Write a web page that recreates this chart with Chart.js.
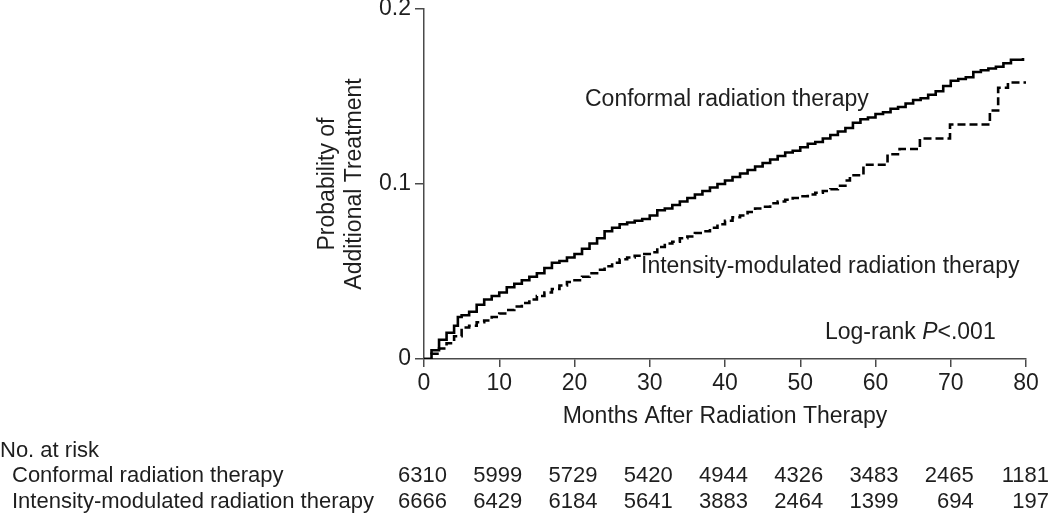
<!DOCTYPE html>
<html><head><meta charset="utf-8">
<script src="https://cdn.jsdelivr.net/npm/chart.js@4/dist/chart.umd.min.js"></script>
<style>html,body{margin:0;padding:0;background:#fff;}#wrap{width:1050px;height:513px;}</style>
</head><body><div id="wrap"><canvas id="c" width="1050" height="513"></canvas></div>
<script>
const crtMonths = [0,1,2,3,4,4.5,5,6,7,8,9,10,11,12,13,14,15,16,17,18,19,20,21,22,23,24,25,26,27,28,29,30,31,32,33,34,35,36,37,38,39,40,41,42,43,44,45,46,47,48,49,50,51,52,53,54,55,56,57,58,59,60,61,62,63,64,65,66,67,68,69,70,71,72,73,74,75,76,77,78,79,79.6];
const crtValues = [0,0.005,0.011,0.015,0.019,0.024,0.025,0.027,0.031,0.034,0.036,0.038,0.041,0.043,0.045,0.047,0.049,0.052,0.055,0.056,0.058,0.060,0.063,0.066,0.069,0.073,0.075,0.077,0.078,0.079,0.080,0.082,0.085,0.086,0.088,0.090,0.092,0.094,0.096,0.098,0.100,0.102,0.104,0.106,0.108,0.110,0.112,0.114,0.116,0.118,0.119,0.121,0.123,0.124,0.126,0.128,0.130,0.132,0.135,0.137,0.138,0.140,0.141,0.143,0.144,0.146,0.148,0.149,0.151,0.153,0.156,0.159,0.160,0.161,0.164,0.165,0.166,0.167,0.169,0.171,0.171,0.172];
const imrtMonths = [0,1,2,3,4,5,6,7,8,9,10,11,12,13,14,15,16,17,18,19,20,21,22,23,24,25,26,27,28,29,30,31,32,33,34,35,36,37,38,39,40,41,42,43,44,45,46,47,48,49,50,51,52,53,54,55,56,56.6,58.4,61.6,63.2,65.9,69.9,75.2,76.3,77.6,80];
const imrtValues = [0,0.003,0.006,0.009,0.013,0.018,0.019,0.021,0.022,0.024,0.026,0.028,0.030,0.032,0.034,0.036,0.038,0.040,0.042,0.044,0.045,0.047,0.049,0.051,0.053,0.055,0.057,0.058,0.059,0.060,0.061,0.064,0.066,0.067,0.069,0.070,0.072,0.073,0.075,0.077,0.079,0.081,0.082,0.084,0.086,0.087,0.089,0.090,0.091,0.092,0.093,0.094,0.095,0.096,0.097,0.099,0.102,0.105,0.111,0.117,0.120,0.126,0.134,0.142,0.155,0.158,0.158];

const xTicks = [0,10,20,30,40,50,60,70,80];
const yTicks = [0,0.1,0.2];
const seriesNames = ['Conformal radiation therapy','Intensity-modulated radiation therapy'];
const riskMonths = [0,10,20,30,40,50,60,70,80];
const riskCrt = [6310,5999,5729,5420,4944,4326,3483,2465,1181];
const riskImrt = [6666,6429,6184,5641,3883,2464,1399,694,197];
const xTitle = 'Months After Radiation Therapy';
const yTitle = ['Probability of','Additional Treatment'];
const pText = ['Log-rank ','P','<.001'];

const FONT = '"Liberation Sans", Arial, sans-serif';
const TXT = '#1e1e1e';
const AX = '#4a4a4a';

const textPlugin = {
  id: 'texts',
  afterDraw(chart) {
    const ctx = chart.ctx;
    const xs = chart.scales.x, ys = chart.scales.y;
    ctx.save();
    ctx.fillStyle = TXT;
    ctx.textBaseline = 'alphabetic';
    ctx.font = '23px ' + FONT;
    // x title
    ctx.textAlign = 'center';
    ctx.fillText(xTitle, (xs.left + xs.right) / 2, 423);
    // y title
    ctx.save();
    ctx.translate(334, (ys.top + ys.bottom) / 2);
    ctx.rotate(-Math.PI / 2);
    ctx.textAlign = 'center';
    ctx.fillText(yTitle[0], 0, 0);
    ctx.fillText(yTitle[1], 0, 27);
    ctx.restore();
    // series labels
    ctx.textAlign = 'left';
    ctx.fillText(seriesNames[0], 585, 106);
    ctx.fillText(seriesNames[1], 641, 273);
    // log-rank
    let px = 825;
    ctx.fillText(pText[0], px, 339); px += ctx.measureText(pText[0]).width;
    ctx.font = 'italic 23px ' + FONT;
    ctx.fillText(pText[1], px, 339); px += ctx.measureText(pText[1]).width;
    ctx.font = '23px ' + FONT;
    ctx.fillText(pText[2], px, 339);
    // risk table
    ctx.font = '22px ' + FONT;
    ctx.textAlign = 'left';
    ctx.fillText('No. at risk', 0, 457);
    ctx.fillText(seriesNames[0], 12, 482);
    ctx.fillText(seriesNames[1], 12, 508);
    ctx.textAlign = 'right';
    riskMonths.forEach((m, i) => {
      const x = xs.getPixelForValue(m) + 23;
      ctx.fillText(String(riskCrt[i]), x, 482);
      ctx.fillText(String(riskImrt[i]), x, 508);
    });
    ctx.restore();
  }
};

new Chart(document.getElementById('c'), {
  type: 'line',
  data: {
    datasets: [
      { label: seriesNames[0], data: crtMonths.map((m, i) => ({x: m, y: crtValues[i]})),
        borderColor: '#000', borderWidth: 2.6, pointRadius: 0, stepped: true, fill: false },
      { label: seriesNames[1], data: imrtMonths.map((m, i) => ({x: m, y: imrtValues[i]})),
        borderColor: '#000', borderWidth: 2.6, borderDash: [8, 4], pointRadius: 0, stepped: true, fill: false }
    ]
  },
  options: {
    responsive: false, animation: false, devicePixelRatio: 1,
    layout: { padding: { top: 9, right: 24, left: 0, bottom: 0 } },
    plugins: { legend: { display: false }, tooltip: { enabled: false } },
    scales: {
      x: {
        type: 'linear', min: 0, max: 80, position: 'bottom',
        afterBuildTicks(s) { s.ticks = xTicks.map(v => ({value: v})); },
        afterFit(s) { s.height = 154; s.paddingLeft = 0; s.paddingRight = 0; },
        grid: { drawOnChartArea: false, drawTicks: true, tickLength: 8, color: AX, lineWidth: 1.5 },
        border: { color: AX, width: 1.5 },
        ticks: { font: { size: 23, family: FONT }, color: TXT, padding: 3, maxRotation: 0 }
      },
      y: {
        min: 0, max: 0.2,
        afterBuildTicks(s) { s.ticks = yTicks.map(v => ({value: v})); },
        afterFit(s) { s.width = 424; s.paddingTop = 0; s.paddingBottom = 0; },
        grid: { drawOnChartArea: false, drawTicks: true, tickLength: 9, color: AX, lineWidth: 1.5 },
        border: { color: AX, width: 1.5 },
        ticks: { font: { size: 23, family: FONT }, color: TXT, padding: 4 }
      }
    }
  },
  plugins: [textPlugin]
});
</script></body></html>
